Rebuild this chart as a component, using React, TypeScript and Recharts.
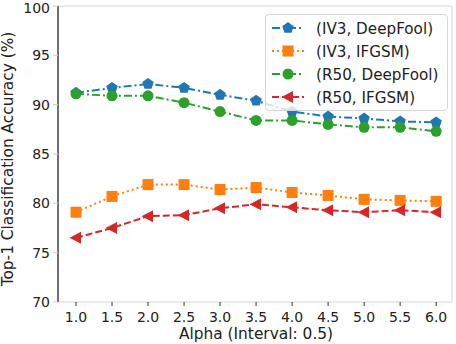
import React from "react";
import {
  LineChart,
  Line,
  XAxis,
  YAxis,
  ReferenceLine,
} from "recharts";

const alphas = [1.0, 1.5, 2.0, 2.5, 3.0, 3.5, 4.0, 4.5, 5.0, 5.5, 6.0];
const iv3DeepFool = [91.2, 91.7, 92.1, 91.7, 91.0, 90.4, 89.3, 88.8, 88.6, 88.3, 88.2];
const iv3Ifgsm = [79.1, 80.7, 81.9, 81.9, 81.4, 81.6, 81.1, 80.8, 80.4, 80.3, 80.2];
const r50DeepFool = [91.1, 90.9, 90.9, 90.2, 89.3, 88.4, 88.4, 88.0, 87.7, 87.7, 87.3];
const r50Ifgsm = [76.5, 77.5, 78.7, 78.8, 79.5, 79.9, 79.6, 79.3, 79.1, 79.3, 79.1];
const yTicks = [70, 75, 80, 85, 90, 95, 100];

const data = alphas.map((alpha, i) => ({
  alpha,
  iv3DeepFool: iv3DeepFool[i],
  iv3Ifgsm: iv3Ifgsm[i],
  r50DeepFool: r50DeepFool[i],
  r50Ifgsm: r50Ifgsm[i],
}));

const font = "DejaVu Sans";
const spine = "#e3e3e3";

type Shape = "pentagon" | "square" | "circle" | "triangleLeft";

function Marker({ cx, cy, shape, color }: { cx: number; cy: number; shape: Shape; color: string }) {
  if (cx == null || cy == null) return null;
  if (shape === "circle") return <circle cx={cx} cy={cy} r={5.5} fill={color} />;
  if (shape === "square")
    return <rect x={cx - 5.5} y={cy - 5.5} width={11} height={11} fill={color} />;
  if (shape === "triangleLeft")
    return (
      <polygon
        points={`${cx - 6.5},${cy} ${cx + 5},${cy - 6} ${cx + 5},${cy + 6}`}
        fill={color}
      />
    );
  const pts = [0, 1, 2, 3, 4]
    .map((k) => {
      const a = ((-90 + k * 72) * Math.PI) / 180;
      return `${cx + 6 * Math.cos(a)},${cy + 6 * Math.sin(a)}`;
    })
    .join(" ");
  return <polygon points={pts} fill={color} />;
}

const series = [
  { key: "iv3DeepFool", name: "(IV3, DeepFool)", color: "#1f77b4", dash: "8 3 2 3", shape: "pentagon" as Shape },
  { key: "iv3Ifgsm", name: "(IV3, IFGSM)", color: "#ff7f0e", dash: "2 3", shape: "square" as Shape },
  { key: "r50DeepFool", name: "(R50, DeepFool)", color: "#2ca02c", dash: "8 3 2 3", shape: "circle" as Shape },
  { key: "r50Ifgsm", name: "(R50, IFGSM)", color: "#d62728", dash: "7 3", shape: "triangleLeft" as Shape },
];

function LegendBox() {
  return (
    <div
      style={{
        position: "absolute",
        left: 265,
        top: 14,
        width: 181,
        height: 95,
        border: "1px solid #d6d6d6",
        borderRadius: 4,
        background: "rgba(255,255,255,0.8)",
      }}
    >
      <svg width={181} height={95} style={{ display: "block" }}>
        {series.map((s, i) => {
          const y = 13 + i * 23;
          return (
            <g key={s.key}>
              <line x1={6} x2={38} y1={y} y2={y} stroke={s.color} strokeWidth={2} strokeDasharray={s.dash} />
              <Marker cx={22} cy={y} shape={s.shape} color={s.color} />
              <text x={50} y={y + 5.5} fontSize={15.2} fontFamily={font} fill="#222">
                {s.name}
              </text>
            </g>
          );
        })}
      </svg>
    </div>
  );
}

export default function App() {
  return (
    <div style={{ position: "absolute", left: 0, top: 0, width: 456, height: 344, background: "#fff" }}>
      <LineChart
        width={456}
        height={344}
        data={data}
        margin={{ top: 6, right: 4, left: 0, bottom: 0 }}
      >
        <XAxis
          dataKey="alpha"
          type="number"
          domain={[0.75, 6.22]}
          ticks={alphas}
          allowDataOverflow
          tickFormatter={(v: number) => v.toFixed(1)}
          axisLine={{ stroke: spine, strokeWidth: 1.5 }}
          tickLine={{ stroke: "#333" }}
          tickSize={4}
          tickMargin={6}
          tick={{ fontSize: 14, fontFamily: font, fill: "#222" }}
          height={42}
          label={{
            content: () => (
              <text x={256} y={339} textAnchor="middle" fontSize={15.4} fontFamily={font} fill="#222">
                Alpha (Interval: 0.5)
              </text>
            ),
          }}
        />
        <YAxis
          type="number"
          domain={[70, 100]}
          ticks={yTicks}
          width={58}
          axisLine={{ stroke: "#111", strokeWidth: 1.2 }}
          tickLine={{ stroke: "#ccc" }}
          tickSize={5}
          tickMargin={3}
          tick={{ fontSize: 14, fontFamily: font, fill: "#222" }}
          label={{
            content: () => (
              <text
                x={13}
                y={159}
                transform="rotate(-90 13 159)"
                textAnchor="middle"
                fontSize={15.4}
                fontFamily={font}
                fill="#222"
              >
                Top-1 Classification Accuracy (%)
              </text>
            ),
          }}
        />
        <ReferenceLine y={100} stroke={spine} strokeWidth={1.5} />
        <ReferenceLine x={6.22} stroke={spine} strokeWidth={1.5} />
        {series.map((s) => (
          <Line
            key={s.key}
            dataKey={s.key}
            name={s.name}
            stroke={s.color}
            strokeWidth={2}
            strokeDasharray={s.dash}
            isAnimationActive={false}
            dot={(p: any) => <Marker key={`${s.key}-${p.index}`} cx={p.cx} cy={p.cy} shape={s.shape} color={s.color} />}
            activeDot={false}
          />
        ))}
      </LineChart>
      <LegendBox />
    </div>
  );
}
